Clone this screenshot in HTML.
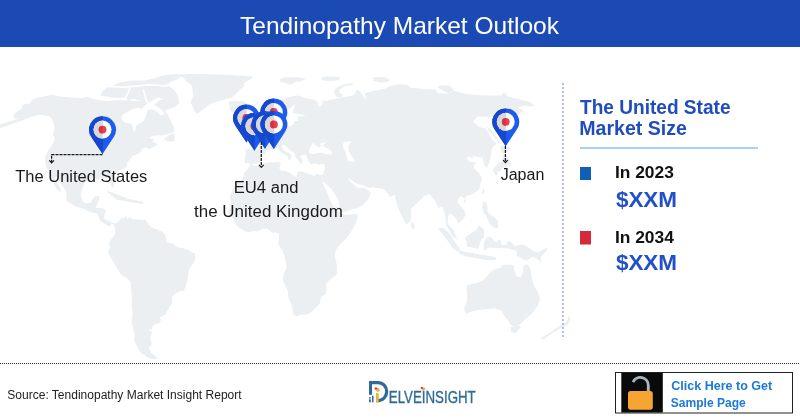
<!DOCTYPE html>
<html><head><meta charset="utf-8"><title>Tendinopathy Market Outlook</title>
<style>
html,body{margin:0;padding:0;background:#fff;}
body{width:800px;height:420px;overflow:hidden;}
svg{display:block;will-change:transform;}
text{font-family:"Liberation Sans",Arial,sans-serif;}
</style></head>
<body>
<svg width="800" height="420" viewBox="0 0 800 420">
<defs>
<g id="pin">
 <path d="M0,-13.4 A13.4,13.4 0 0 1 11.2,7.4 L0,24.5 L-11.2,7.4 A13.4,13.4 0 0 1 0,-13.4 Z" fill="#1d5bec"/>
 <path d="M0.3,-13.4 L0,-13.4 A13.4,13.4 0 0 0 -11.2,7.4 L0,24.5 L0.3,24 Z" fill="#1548cc"/>
 <circle cx="0" cy="0" r="9" fill="#ffffff"/>
 <path d="M0.2,-9 L0,-9 A9,9 0 0 0 0,9 L0.2,9 Z" fill="#d9d9db"/>
 <circle cx="0" cy="0" r="3.9" fill="#e8404e"/>
 <path d="M0,-3.9 A3.9,3.9 0 0 0 0,3.9 Z" fill="#d83442"/>
</g>
</defs>
<rect x="0" y="0" width="800" height="47" fill="#1b4ab5"/>
<text x="240" y="34" font-size="24" fill="#fff" textLength="319" lengthAdjust="spacingAndGlyphs">Tendinopathy Market Outlook</text>

<g id="map">
<g fill="#ebeff2"><path d="M21.9,105.0 L29.8,103.3 L32.9,98.9 L43.6,96.4 L52.0,94.7 L58.7,96.2 L69.2,97.5 L77.0,97.8 L80.7,98.2 L87.5,96.9 L92.4,98.7 L101.6,100.6 L108.2,100.9 L117.6,99.7 L125.1,100.6 L131.5,97.8 L130.7,100.6 L139.1,103.3 L148.0,99.7 L141.9,104.2 L134.9,106.1 L123.7,111.8 L117.6,118.0 L117.9,121.6 L127.5,125.0 L130.4,131.7 L139.0,125.6 L141.9,118.6 L147.1,110.9 L153.4,111.4 L156.3,115.6 L158.7,118.6 L167.5,113.5 L170.0,119.3 L173.6,126.4 L174.5,131.5 L170.0,133.5 L163.0,135.2 L153.0,135.8 L149.0,137.9 L154.4,138.9 L152.5,142.0 L158.5,144.1 L153.4,147.2 L148.5,149.3 L146.6,147.2 L141.7,149.3 L140.7,152.5 L136.5,154.6 L132.7,155.7 L130.4,158.8 L127.1,163.1 L126.9,166.9 L119.8,170.6 L115.4,173.8 L113.9,176.9 L114.5,182.3 L113.5,188.3 L111.3,186.5 L110.5,182.3 L108.8,178.4 L104.6,177.4 L100.0,177.4 L98.9,180.1 L95.1,179.1 L90.7,178.7 L85.6,181.2 L83.1,186.5 L80.9,192.9 L81.3,197.2 L82.8,201.1 L85.4,203.2 L91.1,202.5 L94.1,196.6 L100.1,196.1 L98.0,202.5 L95.8,208.1 L102.5,208.3 L105.7,210.0 L104.0,218.5 L110.9,222.2 L115.6,223.4 L118.3,221.7 L120.7,218.5 L125.1,217.5 L126.7,215.6 L126.9,218.5 L130.0,217.5 L133.4,219.6 L137.2,219.4 L142.8,220.0 L144.9,219.2 L146.4,221.7 L148.6,224.5 L151.7,227.5 L157.1,229.6 L162.5,231.5 L164.9,234.5 L166.7,238.8 L166.7,242.0 L169.5,243.1 L173.3,244.1 L178.1,247.3 L183.7,248.2 L188.5,249.9 L192.3,252.7 L194.5,253.1 L195.6,257.4 L193.4,263.3 L189.0,269.7 L188.2,275.1 L187.4,280.4 L185.6,286.8 L183.6,291.1 L180.9,291.1 L175.7,293.2 L172.1,296.4 L172.3,302.8 L170.1,306.0 L167.4,310.7 L165.5,314.5 L161.0,316.4 L159.5,317.7 L160.8,319.6 L160.1,323.0 L152.7,325.2 L152.1,329.4 L148.6,329.4 L152.1,332.5 L150.0,337.8 L151.7,344.1 L148.9,348.2 L151.0,352.9 L158.2,358.0 L153.6,359.4 L148.0,357.4 L142.6,354.3 L138.8,350.3 L135.8,344.1 L134.2,339.9 L134.9,334.7 L133.8,330.4 L131.6,322.0 L132.1,320.0 L132.6,312.4 L131.7,306.0 L131.8,299.6 L131.5,292.3 L130.5,281.5 L127.0,278.3 L121.1,275.1 L117.9,269.7 L116.6,267.6 L111.6,259.1 L108.5,253.7 L107.9,252.0 L109.3,249.5 L110.2,247.3 L108.7,244.1 L110.5,239.9 L113.1,236.7 L115.4,233.5 L114.7,227.1 L113.8,224.9 L111.6,223.0 L110.2,226.0 L108.9,226.6 L105.4,224.5 L100.3,221.1 L98.9,217.5 L97.1,213.6 L90.0,212.1 L82.9,208.5 L75.0,206.2 L70.6,203.4 L66.8,201.1 L66.2,198.1 L66.5,196.1 L66.3,192.0 L63.5,187.5 L60.5,182.5 L57.5,178.5 L55.5,176.0 L55.0,179.0 L57.5,183.5 L60.5,189.0 L61.0,192.5 L58.5,191.0 L55.0,186.5 L53.5,182.5 L51.3,178.0 L50.9,172.7 L49.5,169.5 L46.4,168.4 L45.7,164.2 L45.3,161.0 L45.3,155.9 L48.2,150.4 L53.0,143.7 L54.8,139.1 L52.8,134.1 L53.9,131.7 L54.7,126.6 L53.4,123.6 L52.2,119.0 L49.6,116.6 L43.2,115.1 L39.2,114.7 L31.1,117.0 L26.6,118.6 L18.8,121.6 L7.5,125.6 L0.9,126.6 L5.4,124.6 L16.5,121.6 L21.7,118.2 L14.2,118.4 L13.7,114.7 L16.6,111.8 L21.7,108.9 L21.7,107.0Z"/><path d="M137.3,108.9 L141.3,105.2 L135.6,106.1 L135.1,108.0Z"/><path d="M174.5,140.5 L174.8,136.0 L173.0,133.0 L168.0,135.5 L164.0,139.5 L168.5,141.5 L172.5,141.8Z"/><path d="M106.7,192.0 L108.0,191.2 L112.0,192.3 L117.2,194.5 L123.0,196.8 L129.0,199.0 L136.0,200.5 L142.7,201.8 L143.8,203.2 L142.5,204.0 L136.0,203.0 L129.0,202.0 L122.0,200.6 L117.2,199.8 L112.5,196.5 L109.3,193.5Z"/><path d="M251.1,165.2 L248.8,163.1 L245.3,163.1 L244.4,159.5 L246.0,154.4 L245.1,150.6 L247.4,148.9 L251.6,149.3 L257.6,149.6 L258.8,147.2 L259.0,143.7 L256.8,141.4 L253.2,139.9 L257.7,138.5 L257.9,136.4 L261.2,137.0 L263.5,135.6 L264.7,133.7 L267.1,132.5 L268.5,129.7 L272.2,128.6 L274.8,127.8 L273.9,124.6 L274.2,121.6 L277.3,120.2 L277.3,122.6 L276.7,125.6 L278.4,126.8 L280.8,127.2 L283.1,126.6 L290.2,126.0 L293.9,124.2 L294.3,121.6 L298.4,120.6 L297.3,116.8 L306.1,115.3 L301.4,114.5 L292.9,112.8 L294.3,108.0 L295.4,104.6 L291.2,107.0 L286.7,110.9 L287.2,114.7 L289.0,117.0 L286.6,120.6 L285.4,123.6 L281.4,124.8 L280.6,122.6 L278.3,119.0 L277.4,117.6 L271.7,119.6 L269.5,117.6 L268.5,114.9 L268.4,111.8 L273.4,108.9 L277.5,106.1 L281.1,101.9 L281.7,99.7 L286.7,97.5 L295.6,95.4 L300.1,96.1 L306.1,98.2 L314.1,99.7 L318.8,103.3 L316.8,103.7 L319.3,107.0 L322.7,104.2 L322.0,100.6 L326.4,101.1 L336.2,98.5 L343.8,97.0 L349.8,96.2 L355.0,94.0 L356.5,89.5 L358.8,90.2 L362.5,94.8 L367.0,101.5 L364.8,93.2 L370.0,91.8 L377.5,90.2 L385.0,88.8 L388.5,86.5 L397.5,84.2 L408.0,85.0 L411.0,88.0 L423.0,88.8 L435.0,89.5 L438.0,93.2 L447.8,93.8 L453.8,90.8 L465.0,93.8 L480.0,95.2 L490.0,95.5 L501.4,95.6 L503.0,92.7 L506.0,93.0 L507.0,96.3 L518.6,99.1 L530.0,102.0 L534.3,105.6 L530.0,106.8 L524.5,105.5 L521.6,106.5 L517.3,107.0 L524.0,110.9 L517.0,115.6 L509.1,116.6 L503.8,114.7 L512.1,120.6 L514.7,123.6 L515.0,127.6 L515.6,133.7 L508.1,127.6 L503.2,121.6 L499.2,112.8 L494.8,116.6 L488.4,117.0 L477.4,116.6 L473.0,121.6 L478.4,126.6 L485.7,128.6 L489.2,133.7 L492.3,139.9 L497.0,144.0 L493.2,146.5 L491.5,150.0 L491.3,154.3 L490.0,160.0 L487.5,166.7 L486.2,167.8 L484.2,165.0 L482.5,157.5 L477.2,157.1 L472.5,155.7 L473.2,158.8 L468.5,156.3 L466.7,158.8 L470.0,162.0 L476.5,162.2 L473.9,165.2 L473.5,167.4 L479.4,173.8 L480.9,175.9 L482.0,178.4 L480.4,184.4 L479.4,188.7 L475.8,192.3 L471.6,194.4 L466.0,196.1 L465.0,198.7 L460.5,196.1 L458.3,199.3 L457.6,202.5 L461.2,206.8 L464.3,210.0 L465.6,215.3 L462.7,219.6 L457.9,223.7 L457.1,219.6 L452.9,215.3 L449.0,213.2 L448.0,216.4 L447.5,222.8 L450.0,227.1 L453.0,229.2 L455.8,235.6 L457.4,239.0 L452.3,236.7 L449.9,231.3 L446.2,226.0 L445.9,220.7 L444.9,214.3 L442.6,206.8 L438.1,207.9 L436.1,202.5 L432.0,197.2 L429.7,194.0 L427.1,195.1 L424.4,195.7 L421.2,199.3 L415.4,204.7 L410.6,208.9 L411.3,214.3 L410.8,220.0 L406.7,224.7 L404.1,220.7 L401.0,214.5 L398.7,208.9 L396.1,201.5 L395.2,197.2 L394.7,194.4 L390.4,197.2 L388.2,194.0 L386.5,191.9 L383.6,189.1 L376.5,188.0 L373.7,187.6 L367.3,187.8 L365.0,186.2 L362.1,185.0 L357.9,184.3 L353.6,181.4 L347.9,177.9 L349.3,180.7 L355.0,185.7 L358.6,188.6 L362.1,187.6 L365.0,188.5 L367.9,190.0 L370.7,192.9 L368.4,199.3 L363.4,204.5 L358.5,207.7 L351.7,209.8 L345.2,211.8 L341.5,212.6 L340.7,210.0 L339.7,205.7 L333.2,196.1 L329.9,189.7 L325.3,183.3 L324.3,179.1 L323.3,182.9 L319.9,178.2 L319.2,175.5 L322.9,174.8 L323.9,171.6 L324.9,168.4 L324.6,164.2 L321.9,164.0 L318.5,164.8 L315.0,163.5 L310.4,164.0 L308.8,162.0 L307.8,158.8 L306.5,156.7 L306.0,155.0 L302.5,154.8 L300.2,156.3 L303.1,161.0 L301.4,163.1 L300.7,164.2 L298.1,160.3 L296.0,157.8 L294.5,154.6 L293.7,152.5 L288.6,149.3 L285.1,145.6 L283.9,144.7 L281.8,145.6 L282.4,148.3 L285.3,151.5 L288.7,152.7 L292.2,155.5 L293.2,156.7 L290.5,156.1 L291.0,158.8 L288.6,161.2 L288.1,156.7 L285.8,155.5 L283.4,154.0 L280.0,151.5 L278.4,148.7 L275.9,147.4 L273.4,148.9 L271.1,150.2 L267.8,149.6 L266.3,150.4 L266.5,151.9 L264.8,153.8 L262.4,155.2 L260.5,157.8 L261.3,159.5 L259.8,161.8 L257.1,163.7 L253.2,163.7Z"/><path d="M319.9,178.2 L322.6,183.3 L325.2,188.7 L329.1,195.1 L330.2,200.4 L333.2,205.7 L334.7,208.9 L340.5,213.0 L341.8,214.2 L345.0,214.8 L350.5,214.6 L356.9,213.8 L358.0,216.5 L355.0,224.9 L351.4,231.3 L346.8,237.7 L339.2,245.2 L335.6,250.5 L334.9,255.9 L336.8,264.4 L337.0,274.0 L330.7,279.3 L325.7,284.2 L326.5,288.9 L325.8,294.3 L321.0,297.2 L319.7,303.4 L315.8,308.1 L311.0,312.4 L306.7,314.5 L300.2,314.9 L296.6,316.2 L294.0,315.2 L293.1,312.4 L292.4,308.1 L290.8,303.0 L288.6,298.7 L287.7,290.8 L282.9,280.4 L283.6,274.4 L286.5,267.6 L285.8,260.8 L284.0,254.8 L282.7,250.5 L278.0,244.1 L278.9,239.9 L278.9,233.7 L276.1,232.6 L272.3,232.8 L267.4,228.4 L262.9,228.8 L257.2,231.3 L253.5,230.9 L246.9,232.6 L240.7,228.6 L236.6,226.0 L235.3,221.7 L232.9,218.5 L229.7,215.3 L228.3,210.6 L230.2,207.9 L230.9,201.5 L229.6,197.6 L231.6,191.9 L234.5,186.5 L237.3,182.5 L240.5,181.2 L243.3,177.2 L244.3,173.1 L247.4,169.3 L250.5,164.7 L256.6,165.9 L259.9,164.9 L266.3,162.5 L275.1,162.3 L278.2,161.5 L280.4,162.5 L280.5,165.3 L279.2,168.5 L281.6,170.6 L284.6,170.8 L288.3,171.9 L292.6,174.9 L296.3,177.4 L297.0,172.8 L300.4,171.0 L305.0,172.8 L310.6,174.2 L314.3,176.3 L316.8,173.8 L319.2,174.5Z"/><path d="M251.7,135.6 L258.6,134.3 L261.3,134.1 L263.3,133.5 L263.4,132.1 L263.7,129.9 L261.2,128.6 L260.1,126.6 L257.9,124.0 L257.0,122.6 L258.2,120.2 L256.4,118.4 L253.4,118.6 L252.1,120.6 L251.6,123.6 L252.4,125.0 L253.1,126.2 L255.9,127.2 L256.2,129.0 L253.7,129.0 L253.7,131.7 L252.8,132.5 L256.1,132.9 L254.2,133.3Z"/><path d="M245.1,132.7 L244.2,131.5 L244.9,128.6 L247.5,127.0 L249.5,125.0 L252.3,126.4 L251.3,129.0 L250.7,131.3Z"/><path d="M279.0,80.0 L283.0,77.5 L292.0,77.0 L300.0,77.5 L306.0,78.5 L302.0,81.0 L296.0,82.0 L290.0,84.8 L285.0,83.0 L281.0,82.0Z"/><path d="M352.8,83.5 L348.0,83.6 L343.8,84.2 L337.0,87.2 L334.0,91.0 L334.8,94.8 L337.0,97.0 L341.0,97.3 L343.0,94.8 L339.2,92.5 L340.0,89.5 L344.0,86.5 L348.5,85.3 L352.8,85.4Z"/><path d="M372.2,78.0 L378.0,76.8 L385.0,77.5 L390.0,79.5 L388.0,82.0 L380.0,82.5 L374.0,81.0Z"/><path d="M438.0,86.0 L444.0,85.3 L450.0,85.5 L454.0,90.5 L448.0,93.5 L443.0,90.5 L438.0,87.5Z"/><path d="M499.3,144.1 L495.1,137.9 L489.3,131.7 L486.8,127.0 L489.3,128.6 L494.6,133.7 L497.8,139.9 L500.9,143.1Z"/><path d="M502.5,153.8 L500.5,149.8 L500.1,145.1 L504.5,146.5 L510.5,147.5 L508.0,151.5 L504.0,153.0Z"/><path d="M503.0,153.5 L506.5,155.5 L509.0,159.5 L511.0,162.5 L510.0,165.5 L506.0,167.0 L503.0,167.5 L499.0,170.5 L495.0,172.0 L492.5,170.0 L495.0,166.5 L498.3,163.3 L502.0,161.0 L503.0,157.0Z"/><path d="M494.7,169.7 L493.3,171.6 L495.5,175.0 L497.3,175.9 L497.6,172.0Z"/><path d="M498.2,169.1 L498.1,171.2 L499.4,172.0 L501.1,170.6 L501.0,169.1Z"/><path d="M483.8,188.0 L484.6,190.8 L483.9,195.1 L482.2,192.9 L483.0,188.7Z"/><path d="M464.8,199.3 L466.6,199.3 L464.8,203.0 L462.7,201.9Z"/><path d="M411.2,221.1 L414.6,224.9 L414.4,228.8 L412.5,229.2 L411.1,226.0Z"/><path d="M479.2,225.6 L484.2,229.8 L483.9,238.4 L482.0,238.4 L480.1,242.6 L479.1,245.8 L478.0,249.0 L475.2,248.0 L468.7,246.9 L467.2,246.5 L466.9,242.6 L465.0,238.4 L466.3,236.2 L469.4,234.5 L474.1,231.3 L476.8,229.8 L477.8,226.6Z"/><path d="M438.9,227.5 L444.3,228.6 L449.0,233.0 L451.4,236.5 L455.0,242.0 L458.6,246.8 L460.0,250.0 L457.0,251.5 L453.2,248.6 L447.0,240.0 L442.0,233.5 L439.5,230.5Z"/><path d="M458.6,250.0 L465.7,252.0 L475.0,253.5 L483.6,255.0 L490.0,256.0 L496.0,257.2 L496.2,259.8 L490.0,260.5 L483.6,259.5 L475.0,258.0 L465.7,256.5 L459.0,253.5Z"/><path d="M467.1,285.3 L471.0,284.0 L476.2,283.3 L480.5,281.5 L484.3,279.3 L488.0,275.0 L491.4,271.2 L496.0,269.0 L500.5,268.1 L502.5,265.1 L508.0,264.6 L513.6,265.1 L514.6,271.2 L516.6,276.2 L520.7,277.2 L522.7,272.2 L523.7,266.1 L526.7,264.1 L529.8,267.1 L530.8,272.0 L531.8,277.2 L533.8,285.3 L537.9,292.4 L539.9,297.5 L539.5,301.5 L537.9,305.6 L532.8,312.6 L528.5,316.5 L524.7,319.7 L519.7,324.8 L514.6,326.8 L510.6,324.8 L507.5,319.7 L503.5,314.7 L501.5,310.6 L494.4,308.6 L488.0,309.0 L482.2,309.6 L477.0,310.5 L472.1,311.6 L466.1,313.7 L464.0,308.6 L465.5,305.0 L467.1,301.5 L467.1,297.0 L467.1,293.4 L466.5,289.0Z"/><path d="M510.8,327.0 L514.0,326.5 L519.7,325.5 L520.5,327.5 L519.2,329.0 L515.5,332.9 L512.5,332.5 L510.6,330.8Z"/><path d="M321.0,78.0 L326.0,76.5 L333.0,76.5 L341.0,77.5 L338.0,80.5 L328.0,81.0 L322.0,80.0Z"/><path d="M0.0,124.3 L12.0,120.8 L22.0,117.3 L24.5,119.5 L14.0,123.2 L0.0,128.2Z"/><path d="M175.0,74.5 L190.0,74.0 L210.7,74.3 L230.0,75.0 L251.2,76.3 L253.0,78.1 L248.8,79.9 L244.0,83.5 L243.5,87.0 L239.3,90.6 L232.1,97.8 L222.6,100.1 L210.7,103.7 L202.4,109.7 L197.6,113.8 L194.5,111.5 L193.3,108.0 L190.5,102.5 L192.9,96.6 L192.3,87.0 L190.5,84.5 L186.0,81.5 L184.0,78.5 L180.0,76.5Z"/><path d="M228.6,101.5 L236.0,101.0 L245.0,101.2 L246.0,104.0 L244.0,108.0 L238.0,110.5 L232.0,112.0 L230.2,110.0 L229.2,105.0Z"/><path d="M101.0,94.0 L102.5,91.0 L106.3,88.0 L111.3,86.5 L116.0,84.5 L120.0,82.4 L127.5,81.0 L132.5,80.5 L145.0,80.5 L155.0,78.0 L162.5,75.5 L172.5,74.3 L178.0,74.2 L180.0,76.5 L178.0,79.5 L172.0,82.5 L168.0,85.5 L172.0,88.0 L175.7,92.0 L178.5,97.0 L179.0,103.4 L175.0,107.0 L169.0,109.0 L163.4,111.0 L158.0,109.0 L152.0,107.0 L146.0,105.0 L140.0,100.0 L130.0,99.0 L120.0,99.0 L110.0,98.0 L101.0,96.0Z"/><path d="M483.6,201.2 L486.0,202.5 L487.5,206.0 L487.5,212.0 L490.0,214.5 L494.0,217.0 L497.5,220.5 L498.5,225.0 L497.5,228.5 L493.5,227.5 L490.0,224.5 L488.0,220.5 L486.5,216.5 L483.5,213.0 L482.5,208.0 L482.5,204.0Z"/><path d="M484.8,240.4 L487.6,237.0 L491.4,237.5 L494.3,241.3 L496.5,242.5 L498.6,239.4 L500.5,239.9 L501.4,245.1 L506.5,245.1 L507.6,241.3 L510.5,241.3 L515.2,246.6 L520.0,244.7 L523.8,244.7 L529.5,248.0 L534.3,251.8 L539.0,251.8 L545.7,248.0 L547.6,249.0 L544.8,252.8 L541.0,256.6 L541.4,262.3 L536.2,258.5 L532.4,256.6 L526.7,260.9 L521.9,258.5 L516.7,255.6 L517.1,251.3 L508.6,248.5 L497.1,248.0 L489.5,247.5 L483.8,250.9 L483.8,245.1Z"/><path d="M541.7,337.5 L545.0,335.5 L549.3,333.0 L553.0,330.5 L556.9,327.5 L560.0,325.5 L563.6,323.8 L566.5,321.8 L567.8,319.0 L568.2,316.5 L569.5,316.2 L570.4,319.5 L569.2,322.8 L566.5,325.2 L563.6,326.8 L559.0,329.4 L554.0,332.1 L549.5,335.1 L545.5,338.6 L542.6,339.6 L541.0,339.0Z"/><path d="M318.5,175.0 L326.0,175.0 L333.0,186.0 L340.0,198.0 L342.0,205.0 L341.0,209.0 L337.0,209.0 L331.0,200.0 L324.0,190.0 L319.0,182.0Z"/><path d="M117.0,103.0 L135.0,101.0 L150.0,99.5 L160.0,100.0 L166.0,112.0 L166.0,118.0 L160.0,135.0 L128.0,136.0 L117.0,128.0Z"/></g>
<g fill="#fff"><path d="M311.2,154.2 L316.1,153.3 L321.5,152.5 L324.9,154.0 L329.6,154.6 L332.7,153.3 L331.1,150.4 L324.5,147.0 L322.8,145.8 L320.8,146.2 L318.7,147.4 L315.8,145.6 L312.9,143.1 L311.1,145.8 L308.8,150.0 L309.1,152.5Z"/><path d="M320.9,145.6 L319.8,144.1 L326.0,141.8 L324.7,143.5 L322.7,145.6Z"/><path d="M343.6,142.5 L347.0,141.5 L352.1,141.2 L350.0,143.5 L348.3,146.5 L348.3,150.0 L350.7,155.0 L353.5,158.5 L355.7,161.4 L351.0,161.5 L347.9,160.7 L346.4,156.0 L345.5,152.0 L343.5,148.5 L342.8,145.0Z"/><path d="M322.5,181.5 L324.5,182.5 L328.0,186.0 L331.4,189.3 L334.0,193.0 L336.4,196.4 L338.5,200.5 L339.6,205.0 L338.5,207.5 L336.4,206.4 L333.0,203.5 L330.7,200.7 L328.5,196.5 L327.1,192.1 L324.5,187.0 L322.3,183.0Z"/><path d="M121.6,116.1 L123.7,114.0 L131.0,109.8 L137.3,107.7 L141.5,108.8 L146.7,104.6 L152.0,100.4 L159.3,96.7 L160.5,98.5 L157.2,102.5 L154.0,104.6 L156.0,106.0 L160.4,108.8 L164.5,113.0 L161.4,116.1 L157.0,111.5 L152.0,109.5 L147.8,109.8 L145.7,116.1 L143.6,121.3 L139.4,123.4 L136.3,125.5 L135.2,130.7 L133.1,131.8 L132.6,126.6 L131.0,123.4 L124.8,122.4 L121.6,119.2Z"/></g>
<polyline fill="none" stroke="#fff" stroke-linecap="round" stroke-linejoin="round" stroke-width="1.6" points="110,86.6 118,86.9 125,87.3 131.9,86.4 140,85.7 148.7,84.9 158,85.2 165.6,86.2 172,82.5 178,80 183,78.2"/><polyline fill="none" stroke="#fff" stroke-linecap="round" stroke-linejoin="round" stroke-width="2.0" points="97,97.2 103,97 111,98.4 118,98.9 125,98.6"/><polyline fill="none" stroke="#fff" stroke-linecap="round" stroke-linejoin="round" stroke-width="1.7" points="129.8,88 128,93 125.5,98.5"/><polyline fill="none" stroke="#fff" stroke-linecap="round" stroke-linejoin="round" stroke-width="1.8" points="143.5,90.5 145,95 146,100 149,104"/><polyline fill="none" stroke="#fff" stroke-linecap="round" stroke-linejoin="round" stroke-width="1.2" points="145.4,105.6 152,103 162.2,98.9"/>
</g>

<!-- pins -->
<use href="#pin" x="102.55" y="129.6"/>
<use href="#pin" x="246.5" y="118"/>
<use href="#pin" x="273.8" y="112"/>
<use href="#pin" x="254.5" y="126.2"/>
<use href="#pin" x="265" y="124.3"/>
<use href="#pin" x="273.9" y="124.4"/>
<use href="#pin" x="505.75" y="121.8"/>

<g stroke="#1a1a1a" stroke-width="1.25" fill="none">
 <path d="M102.5,154.6 H51.6 V162" stroke-dasharray="3,1"/>
 <path d="M49.3,160.4 L51.6,162.9 L53.9,160.4"/>
 <path d="M261.3,142 V166.5" stroke-dasharray="3,1"/>
 <path d="M259,164.8 L261.3,167.3 L263.6,164.8"/>
 <path d="M505.4,146 V162" stroke-dasharray="3,1"/>
 <path d="M503.1,160.2 L505.4,162.7 L507.7,160.2"/>
</g>

<text x="15.3" y="181.6" font-size="16.5" fill="#1a1a1a" textLength="132" lengthAdjust="spacingAndGlyphs">The United States</text>
<text x="233.8" y="193.4" font-size="16" fill="#1a1a1a" textLength="64.6" lengthAdjust="spacingAndGlyphs">EU4 and</text>
<text x="194.1" y="217.2" font-size="16" fill="#1a1a1a" textLength="148.8" lengthAdjust="spacingAndGlyphs">the United Kingdom</text>
<text x="500.7" y="179.8" font-size="16" fill="#1a1a1a" textLength="43.6" lengthAdjust="spacingAndGlyphs">Japan</text>

<!-- right panel -->
<line x1="563" y1="83" x2="563" y2="337" stroke="#a8c1f7" stroke-width="2" stroke-dasharray="2,2"/>
<text x="580" y="113.8" font-size="20" font-weight="bold" fill="#1f4cbf" textLength="150.5" lengthAdjust="spacingAndGlyphs">The United State</text>
<text x="579.2" y="134.5" font-size="20" font-weight="bold" fill="#1f4cbf" textLength="107.8" lengthAdjust="spacingAndGlyphs">Market Size</text>
<rect x="580" y="147" width="178" height="2" fill="#a9d0fa"/>
<rect x="580" y="167" width="11" height="13" fill="#1060b8"/>
<text x="614.9" y="177.9" font-size="17" font-weight="bold" fill="#111" textLength="59" lengthAdjust="spacingAndGlyphs">In 2023</text>
<text x="615.9" y="207.4" font-size="22" font-weight="bold" fill="#2150c8" textLength="61.2" lengthAdjust="spacingAndGlyphs">$XXM</text>
<rect x="580" y="231" width="11" height="13.5" fill="#d42a3a"/>
<text x="614.9" y="242.9" font-size="17" font-weight="bold" fill="#111" textLength="59" lengthAdjust="spacingAndGlyphs">In 2034</text>
<text x="615.9" y="269.5" font-size="22" font-weight="bold" fill="#2150c8" textLength="61.2" lengthAdjust="spacingAndGlyphs">$XXM</text>

<!-- footer -->
<line x1="0" y1="363.5" x2="800" y2="363.5" stroke="#222" stroke-width="1" stroke-dasharray="1,1"/>
<text x="7.3" y="398.7" font-size="12" fill="#222" textLength="234.3" lengthAdjust="spacingAndGlyphs">Source: Tendinopathy Market Insight Report</text>

<!-- logo -->
<g id="logo">
 <rect x="369" y="381" width="3" height="13.8" fill="#2e6b96"/>
 <path d="M369,382.55 H378 A8.7,9.05 0 0 1 378,400.65 H378.6" fill="none" stroke="#2e6b96" stroke-width="3.2"/>
 <rect x="369" y="397.1" width="1.8" height="1.4" fill="#2e6b96"/>
 <rect x="369" y="399.3" width="1.8" height="3" fill="#2e6b96"/>
 <rect x="372" y="395.7" width="1.5" height="6.6" fill="#2e6b96"/>
 <rect x="376" y="393" width="2.7" height="9.7" fill="#e8b43a"/>
 <circle cx="378" cy="389.9" r="1.9" fill="#e8b43a"/>
 <circle cx="375.9" cy="388.6" r="1.25" fill="#d83868"/>
 <text x="388.8" y="402.8" font-size="16.2" fill="#2e6b96" stroke="#2e6b96" stroke-width="0.35" textLength="86.9" lengthAdjust="spacingAndGlyphs">ELVEINSIGHT</text>
 <circle cx="423.4" cy="389" r="1.7" fill="#e8b43a"/>
 <circle cx="421.8" cy="388" r="1.15" fill="#d83868"/>
</g>

<!-- CTA -->
<rect x="615.5" y="372.5" width="177" height="40.5" fill="#fff" stroke="#222" stroke-width="1"/>
<rect x="621.3" y="373" width="41.5" height="39.5" fill="#0a0a0a"/>
<path d="M633.05,382.1 A8,8 0 0 1 648.3,385.5 V391.5" fill="none" stroke="#a8b4bf" stroke-width="2.9"/>
<rect x="628" y="390.9" width="24.8" height="18.8" rx="2.6" fill="#f6a532"/>
<text x="671.3" y="389.9" font-size="12.5" font-weight="bold" fill="#1a7ad6" textLength="100.9" lengthAdjust="spacingAndGlyphs">Click Here to Get</text>
<text x="670.8" y="406.9" font-size="12.5" font-weight="bold" fill="#1a7ad6" textLength="75" lengthAdjust="spacingAndGlyphs">Sample Page</text>
</svg>
</body></html>
